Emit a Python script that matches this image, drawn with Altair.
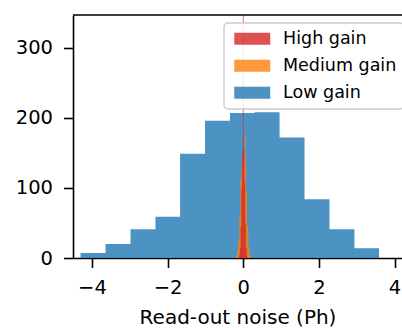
import altair as alt
import pandas as pd

# Low gain histogram (bin edges and counts)
low_edges = [-4.30, -3.64, -2.98, -2.32, -1.67, -1.01, -0.35, 0.30, 0.96, 1.62, 2.28, 2.94, 3.59]
low_counts = [7, 20, 41, 59, 149, 196, 207, 208, 172, 84, 41, 14]

# Medium gain histogram
med_edges = [-0.195, -0.165, -0.135, -0.105, -0.075, -0.045, -0.015, 0.015, 0.045, 0.075, 0.105, 0.135, 0.165, 0.195]
med_counts = [3, 10, 25, 60, 112, 130, 150, 140, 176, 95, 45, 15, 4]

# High gain histogram
high_edges = [-0.11, -0.09, -0.07, -0.05, -0.03, -0.01, 0.01, 0.03, 0.05, 0.07, 0.09, 0.11]
high_counts = [4, 15, 45, 100, 150, 600, 155, 110, 50, 15, 4]

series = ["High gain", "Medium gain", "Low gain"]
colors = ["#d62728", "#ff7f0e", "#1f77b4"]
x_ticks = [-4, -2, 0, 2, 4]
y_ticks = [0, 100, 200, 300]


def steps(edges, counts, name):
    rows = [{"x": e, "y": c, "s": name} for e, c in zip(edges[:-1], counts)]
    rows.append({"x": edges[-1], "y": counts[-1], "s": name})
    return pd.DataFrame(rows)


W, H = 329, 243
FONT = "DejaVu Sans"

xenc = alt.X("x:Q", scale=alt.Scale(domain=[-4.5, 4.197], nice=False, zero=False),
             axis=alt.Axis(values=x_ticks, title="Read-out noise (Ph)", labelFlush=False))
yenc = alt.Y("y:Q", scale=alt.Scale(domain=[0, 347], nice=False), stack=False,
             axis=alt.Axis(values=y_ticks, title=None))
cenc = alt.Color("s:N", scale=alt.Scale(domain=series, range=colors),
                 legend=alt.Legend(title=None, orient="none", legendX=151, legendY=8,
                                   symbolType="M-2.1176,-0.7059H2.1176V0.7059H-2.1176Z", symbolSize=289,
                                   symbolOpacity=0.8, symbolStrokeWidth=0,
                                   labelFontSize=17.5, labelFont=FONT, labelColor="black",
                                   padding=7, rowPadding=8, symbolOffset=12.5, labelOffset=22,
                                   fillColor="rgba(255,255,255,0.8)", strokeColor="#cccccc",
                                   cornerRadius=4))


def layer(edges, counts, name):
    return alt.Chart(steps(edges, counts, name)).mark_area(
        interpolate="step-after", opacity=0.8, clip=True
    ).encode(x=xenc, y=yenc, color=cenc)


top_spine = alt.Chart(pd.DataFrame({"a": [0]})).mark_rule(color="black", strokeWidth=1.6).encode(
    x=alt.value(0), x2=alt.value(W), y=alt.value(0)
)

chart = alt.layer(
    layer(low_edges, low_counts, "Low gain"),
    layer(med_edges, med_counts, "Medium gain"),
    layer(high_edges, high_counts, "High gain"),
    top_spine,
).properties(
    width=W, height=H,
    autosize=alt.AutoSizeParams(type="none"),
    padding={"left": 73, "top": 15, "right": 0, "bottom": 70},
).configure_view(strokeWidth=0).configure_axis(
    labelFont=FONT, labelFontSize=19.5, labelColor="black",
    tickColor="black", domainColor="black", tickWidth=1.6, domainWidth=1.6,
    tickSize=9.5, labelPadding=11, titleFont=FONT, titleFontSize=20,
    titleFontWeight="normal", titleColor="black", titlePadding=10, grid=False,
).configure_legend(strokeWidth=1.5)

chart.save("out.html", embed_options={"renderer": "svg", "actions": False})
